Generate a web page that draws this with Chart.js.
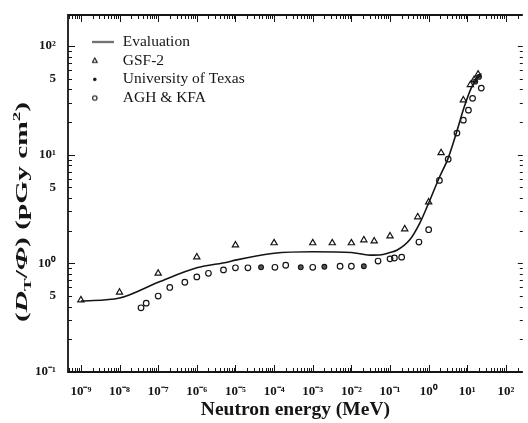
<!DOCTYPE html>
<html>
<head>
<meta charset="utf-8">
<script src="https://cdn.jsdelivr.net/npm/chart.js@4.4.1/dist/chart.umd.min.js"></script>
<style>
html,body{margin:0;padding:0;background:#fff;}
#wrap{width:528px;height:423px;position:relative;}
</style>
</head>
<body>
<div id="wrap"><canvas id="c" width="528" height="423"></canvas></div>
<script>
// ---- data ----
const evalE = [1e-9, 1e-8, 1e-7, 1e-6, 6.6e-6, 1e-5, 1e-4, 1e-3, 1e-2, 3e-2, 6e-2, 1e-1, 0.15, 0.32, 0.59, 1.0, 1.9, 3.2, 5.2, 8.3, 12.6, 17, 23];
const evalD = [0.45, 0.48, 0.67, 0.91, 1.03, 1.07, 1.24, 1.28, 1.26, 1.19, 1.2, 1.26, 1.32, 1.64, 2.35, 3.59, 6.2, 9.3, 15.8, 27.4, 41, 48.6, 56];

const gsfE = [1e-9, 1e-8, 1e-7, 1e-6, 1e-5, 1e-4, 1e-3, 3.2e-3, 1e-2, 2.1e-2, 3.9e-2, 1e-1, 0.24, 0.52, 1.0, 2.1, 7.9, 12, 15, 19];
const gsfD = [0.46, 0.54, 0.81, 1.14, 1.47, 1.54, 1.54, 1.54, 1.54, 1.64, 1.6, 1.78, 2.07, 2.67, 3.66, 10.4, 31.8, 44, 49, 55];

const texE = [4.6e-5, 4.9e-4, 2e-3, 2.1e-2, 16, 20];
const texD = [0.92, 0.92, 0.93, 0.94, 47, 52];

const aghE = [3.6e-8, 4.9e-8, 1e-7, 2e-7, 4.9e-7, 1e-6, 2e-6, 4.9e-6, 1e-5, 2.1e-5, 1.05e-4, 2e-4, 1e-3, 5.1e-3, 1e-2, 4.9e-2, 1e-1, 0.13, 0.2, 0.56, 1.0, 1.9, 3.2, 5.4, 7.9, 10.7, 13.7, 23];
const aghD = [0.39, 0.43, 0.50, 0.60, 0.67, 0.75, 0.81, 0.87, 0.91, 0.91, 0.92, 0.96, 0.92, 0.94, 0.94, 1.05, 1.10, 1.12, 1.14, 1.57, 2.04, 5.8, 9.1, 15.8, 20.8, 25.7, 33, 41];

const seriesNames = ['Evaluation', 'GSF-2', 'University of Texas', 'AGH & KFA'];

const xTickValues = [1e-9, 1e-8, 1e-7, 1e-6, 1e-5, 1e-4, 1e-3, 1e-2, 1e-1, 1e0, 1e1, 1e2];
const xTickLabels = ['10⁻⁹', '10⁻⁸', '10⁻⁷', '10⁻⁶', '10⁻⁵', '10⁻⁴', '10⁻³', '10⁻²', '10⁻¹', '10⁰', '10¹', '10²'];
const yTickValues = [0.1, 0.5, 1, 5, 10, 50, 100];
const yTickLabels = ['10⁻¹', '5', '10⁰', '5', '10¹', '5', '10²'];

const xMin = 4.64e-10, xMax = 273;
const yMin = 0.1, yMax = 193;

const INK = '#151515';
const SERIF = '"Liberation Serif", "Times New Roman", serif';

const pts = (xs, ys) => xs.map((x, i) => ({x: x, y: ys[i]}));

// ---- legend sample images ----
function sample(kind) {
  const c = document.createElement('canvas');
  c.width = 23; c.height = 9;
  const g = c.getContext('2d');
  g.strokeStyle = INK; g.fillStyle = INK; g.lineWidth = 1.1;
  const cx = 2.8, cy = 4.5;
  if (kind === 'line') {
    g.lineWidth = 1.4;
    g.beginPath(); g.moveTo(0, cy); g.lineTo(22, cy); g.stroke();
  } else if (kind === 'tri') {
    g.beginPath(); g.moveTo(cx, cy - 2.7); g.lineTo(cx + 2.4, cy + 1.7); g.lineTo(cx - 2.4, cy + 1.7); g.closePath(); g.stroke();
  } else if (kind === 'dot') {
    g.beginPath(); g.arc(cx, cy, 1.8, 0, Math.PI * 2); g.fill();
  } else {
    g.beginPath(); g.arc(cx, cy, 2.2, 0, Math.PI * 2); g.stroke();
  }
  return c;
}
const legendSamples = [sample('line'), sample('tri'), sample('dot'), sample('ring')];

// ---- plugins ----
function logTicks(min, max) {
  const out = [];
  for (let e = Math.floor(Math.log10(min)); e <= Math.ceil(Math.log10(max)); e++) {
    for (let m = 1; m <= 9; m++) {
      const v = m * Math.pow(10, e);
      if (v >= min * 0.999 && v <= max * 1.001) out.push([v, m === 1]);
    }
  }
  return out;
}

const frameTicks = {
  id: 'frameTicks',
  afterDraw(chart) {
    const ctx = chart.ctx, a = chart.chartArea;
    const xs = chart.scales.x, ys = chart.scales.y;
    ctx.save();
    ctx.strokeStyle = INK;
    ctx.lineWidth = 1;
    ctx.beginPath();
    for (const [v, maj] of logTicks(xs.min, xs.max)) {
      const p = Math.round(xs.getPixelForValue(v)) + 0.5;
      const L = maj ? 7 : 4;
      ctx.moveTo(p, a.bottom); ctx.lineTo(p, a.bottom - L);
      ctx.moveTo(p, a.top); ctx.lineTo(p, a.top + L);
    }
    for (const [v, maj] of logTicks(ys.min, ys.max)) {
      const p = Math.round(ys.getPixelForValue(v)) + 0.5;
      const L = maj ? 7 : 4;
      ctx.moveTo(a.left, p); ctx.lineTo(a.left + L, p);
      ctx.moveTo(a.right, p); ctx.lineTo(a.right - (maj ? 5 : 3), p);
    }
    ctx.stroke();
    ctx.lineWidth = 1.8;
    ctx.beginPath();
    ctx.moveTo(a.right, a.top); ctx.lineTo(a.left, a.top); ctx.lineTo(a.left, a.bottom); ctx.lineTo(a.right, a.bottom);
    ctx.stroke();
    ctx.restore();
  }
};

const yTitle = {
  id: 'yTitle',
  afterDraw(chart) {
    const ctx = chart.ctx;
    const big = 'bold 17px ' + SERIF, bigI = 'italic bold 17px ' + SERIF, small = 'bold 11px ' + SERIF;
    const parts = [['(', big, 0], ['D', bigI, 0], ['T', small, 4], ['/', big, 0], ['Φ', bigI, 0], [') (pGy cm', big, 0], ['2', small, -7], [')', big, 0]];
    ctx.save();
    let total = 0;
    const widths = parts.map(p => { ctx.font = p[1]; const w = ctx.measureText(p[0]).width; total += w; return w; });
    const target = 220;
    ctx.translate(21, 212);
    ctx.rotate(-Math.PI / 2);
    ctx.scale(target / total, 1);
    ctx.fillStyle = INK;
    ctx.textBaseline = 'alphabetic';
    let x = -total / 2;
    parts.forEach((p, i) => {
      ctx.font = p[1];
      ctx.fillText(p[0], x, 6 + p[2]);
      x += widths[i];
    });
    ctx.restore();
  }
};

const legendPlace = {
  id: 'legendPlace',
  afterLayout(chart) {
    const L = chart.legend;
    if (!L) return;
    L.left = chart.chartArea.left + 20.8;
    L.top = chart.chartArea.top + 16;
  }
};

// ---- chart ----
new Chart(document.getElementById('c'), {
  type: 'scatter',
  data: {
    datasets: [
      {
        label: seriesNames[0], data: pts(evalE, evalD), showLine: true,
        borderColor: INK, borderWidth: 1.6, pointRadius: 0,
        cubicInterpolationMode: 'monotone', fill: false
      },
      {
        label: seriesNames[1], data: pts(gsfE, gsfD), pointStyle: 'triangle',
        pointRadius: 3.6, borderColor: INK, borderWidth: 1.2, backgroundColor: 'rgba(255,255,255,0)'
      },
      {
        label: seriesNames[2], data: pts(texE, texD), pointStyle: 'circle',
        pointRadius: 2.4, borderColor: INK, borderWidth: 1.1, backgroundColor: '#555'
      },
      {
        label: seriesNames[3], data: pts(aghE, aghD), pointStyle: 'circle',
        pointRadius: 2.8, borderColor: INK, borderWidth: 1.2, backgroundColor: 'rgba(255,255,255,0)'
      }
    ]
  },
  options: {
    responsive: false,
    animation: false,
    devicePixelRatio: 1,
    layout: { padding: { top: 15, right: 1, bottom: 0, left: 0 } },
    scales: {
      x: {
        type: 'logarithmic', position: 'bottom', min: xMin, max: xMax,
        grid: { display: false }, border: { display: false },
        afterBuildTicks(s) { s.ticks = xTickValues.map(v => ({ value: v })); },
        afterFit(s) { s.height = 51; },
        ticks: {
          autoSkip: false, maxRotation: 0, minRotation: 0, padding: 4, color: INK,
          font: { family: SERIF, size: 13, weight: 'bold' },
          callback(v) { const i = xTickValues.findIndex(t => Math.abs(t - v) / t < 1e-6); return i >= 0 ? xTickLabels[i] : ''; }
        },
        title: {
          display: true, text: 'Neutron energy (MeV)', color: INK,
          font: { family: SERIF, size: 19.5, weight: 'bold' }, padding: { top: 0, bottom: 1 }
        }
      },
      y: {
        type: 'logarithmic', position: 'left', min: yMin, max: yMax,
        grid: { display: false }, border: { display: false },
        afterBuildTicks(s) { s.ticks = yTickValues.map(v => ({ value: v })); },
        afterFit(s) { s.width = 68; },
        ticks: {
          autoSkip: false, padding: 4, color: INK,
          font: { family: SERIF, size: 13, weight: 'bold' },
          callback(v) { const i = yTickValues.findIndex(t => Math.abs(t - v) / t < 1e-6); return i >= 0 ? yTickLabels[i] : ''; }
        },
        title: { display: false }
      }
    },
    plugins: {
      tooltip: { enabled: false },
      legend: {
        display: true, position: 'chartArea', align: 'start',
        labels: {
          usePointStyle: true, pointStyleWidth: 23, padding: 3.2, color: INK,
          font: { family: SERIF, size: 15.5 },
          generateLabels(chart) {
            return chart.data.datasets.map((ds, i) => ({
              text: ds.label, pointStyle: legendSamples[i], fillStyle: INK, strokeStyle: INK,
              lineWidth: 0, hidden: false, datasetIndex: i, fontColor: INK
            }));
          }
        }
      }
    }
  },
  plugins: [legendPlace, frameTicks, yTitle]
});
</script>
</body>
</html>
